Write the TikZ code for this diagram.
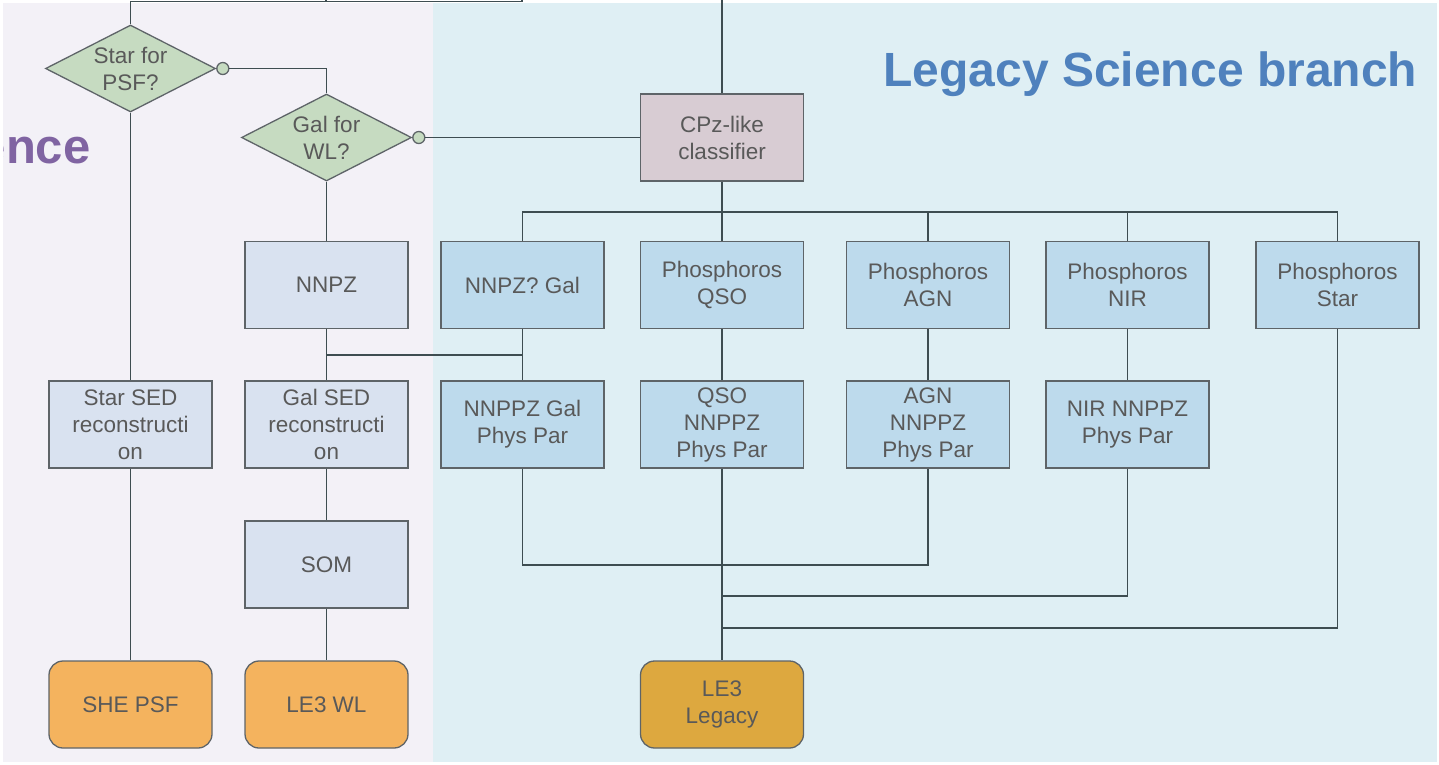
\documentclass[tikz,border=0pt]{standalone}
\usepackage{fontspec}
\setmainfont{Liberation Sans}
\usepackage{tikz}
\usetikzlibrary{shapes.geometric,positioning}

\definecolor{txtgray}{HTML}{595959}
\definecolor{linegray}{HTML}{3E4D51}
\definecolor{boxgray}{HTML}{5E6468}
\definecolor{leftbg}{HTML}{F3F1F7}
\definecolor{rightbg}{HTML}{DFEFF4}
\definecolor{decgreen}{HTML}{C6DBC1}
\definecolor{paleblue}{HTML}{D9E2F0}
\definecolor{legblue}{HTML}{BDDAEC}
\definecolor{cpzpink}{HTML}{D8CCD3}
\definecolor{outorange}{HTML}{F4B35E}
\definecolor{outgold}{HTML}{DDA83F}
\definecolor{titleblue}{HTML}{4F81BD}
\definecolor{titlepurple}{HTML}{8064A2}

\begin{document}
\begin{tikzpicture}[
    x=1pt, y=-1pt,
    every node/.style={font=\fontsize{22.5}{27}\selectfont, text=txtgray, align=center},
    box/.style={draw=boxgray, line width=1.3pt, minimum width=163pt, minimum height=87pt, inner sep=2pt},
    wlbox/.style={box, fill=paleblue},
    legbox/.style={box, fill=legblue},
    outbox/.style={box, rounded corners=14pt, fill=outorange},
    decision/.style={shape=diamond, shape aspect=1.95, draw=boxgray, line width=1.3pt, fill=decgreen, minimum width=170pt, minimum height=87pt, inner sep=0pt},
    yesdot/.style={circle, draw=boxgray, line width=1.3pt, fill=decgreen, minimum size=12pt, inner sep=0pt},
    link/.style={draw=linegray, line width=1.5pt}
]
    \useasboundingbox (0,0) rectangle (1439,764);

    % Panels
    \fill[leftbg] (3,3) rectangle (433,762);
    \fill[rightbg] (433,3) rectangle (1437,762);
    \begin{scope}
        \clip (3,3) rectangle (433,762);
        \node[anchor=base east, font=\fontsize{49}{55}\selectfont\bfseries, text=titlepurple] (wltitle) at (94,163) {ence};
    \end{scope}
    \node[anchor=base west, font=\fontsize{48}{55}\selectfont\bfseries, text=titleblue] (legtitle) at (880,86) {Legacy Science branch};

    % Level 0
    \node[decision] (starpsf) at (130.5,68.5) {Star for\\PSF?};
    \node[yesdot, right=0pt of starpsf.east] (dot1) {};
    \node[decision] (galwl) at (326.5,137.5) {Gal for\\WL?};
    \node[yesdot, right=0pt of galwl.east] (dot2) {};
    \node[box, fill=cpzpink] (cpz) at (722,137.5) {CPz-like\\classifier};

    % Level 1
    \node[wlbox] (nnpz) at (326.5,285) {NNPZ};
    \node[legbox] (nnpzgal) at (522.5,285) {NNPZ? Gal};
    \node[legbox] (phqso) at (722,285) {Phosphoros\\QSO};
    \node[legbox] (phagn) at (928,285) {Phosphoros\\AGN};
    \node[legbox] (phnir) at (1127.5,285) {Phosphoros\\NIR};
    \node[legbox] (phstar) at (1337.5,285) {Phosphoros\\Star};

    % Level 2
    \node[wlbox] (starsed) at (130.5,424.5) {Star SED\\reconstructi\\on};
    \node[wlbox] (galsed) at (326.5,424.5) {Gal SED\\reconstructi\\on};
    \node[legbox] (galpp) at (522.5,424.5) {NNPPZ Gal\\Phys Par};
    \node[legbox] (qsopp) at (722,424.5) {QSO\\NNPPZ\\Phys Par};
    \node[legbox] (agnpp) at (928,424.5) {AGN\\NNPPZ\\Phys Par};
    \node[legbox] (nirpp) at (1127.5,424.5) {NIR NNPPZ\\Phys Par};

    % Level 3
    \node[wlbox] (som) at (326.5,564.5) {SOM};

    % Level 4
    \node[outbox] (shepsf) at (130.5,704.5) {SHE PSF};
    \node[outbox] (le3wl) at (326.5,704.5) {LE3 WL};
    \node[outbox, fill=outgold] (le3leg) at (722,704.5) {LE3\\Legacy};

    % Junctions
    \coordinate (topbar) at (0,1.5);
    \coordinate (topmid) at (326,0);
    \coordinate (topright) at (522,0);
    \coordinate (cpzin) at (722,0);
    \coordinate (bus) at (0,212);
    \coordinate (nnpzbar) at (0,355);
    \coordinate (ppbar) at (722,565);
    \coordinate (nirbar) at (722,596);
    \coordinate (starbar) at (722,628);

    % Lines
    \draw[link] (starpsf.north) -- (starpsf.north |- topbar) -- (topright |- topbar) -- (topright);
    \draw[link] (topmid) -- (topmid |- topbar);
    \draw[link] (cpzin) -- (cpz.north);
    \draw[link] (dot1.east) -| (galwl.north);
    \draw[link] (dot2.east) -- (cpz.west);
    \draw[link] (galwl.south) -- (nnpz.north);
    \draw[link] (starpsf.south) -- (starsed.north);
    \draw[link] (nnpzgal.north) -- (nnpzgal.north |- bus) -- (phstar.north |- bus) -- (phstar.north);
    \draw[link] (cpz.south) -- (phqso.north);
    \foreach \b in {phagn, phnir}
        \draw[link] (\b.north) -- (\b.north |- bus);
    \draw[link] (nnpz.south) -- (galsed.north);
    \draw[link] (nnpzgal.south) -- (galpp.north);
    \draw[link] (nnpz.south |- nnpzbar) -- (nnpzgal.south |- nnpzbar);
    \draw[link] (phqso.south) -- (qsopp.north);
    \draw[link] (phagn.south) -- (agnpp.north);
    \draw[link] (phnir.south) -- (nirpp.north);
    \draw[link] (starsed.south) -- (shepsf.north);
    \draw[link] (galsed.south) -- (som.north);
    \draw[link] (som.south) -- (le3wl.north);
    \draw[link] (galpp.south) |- (ppbar) -| (agnpp.south);
    \draw[link] (qsopp.south) -- (le3leg.north);
    \draw[link] (nirpp.south) |- (nirbar);
    \draw[link] (phstar.south) |- (starbar);
\end{tikzpicture}
\end{document}
